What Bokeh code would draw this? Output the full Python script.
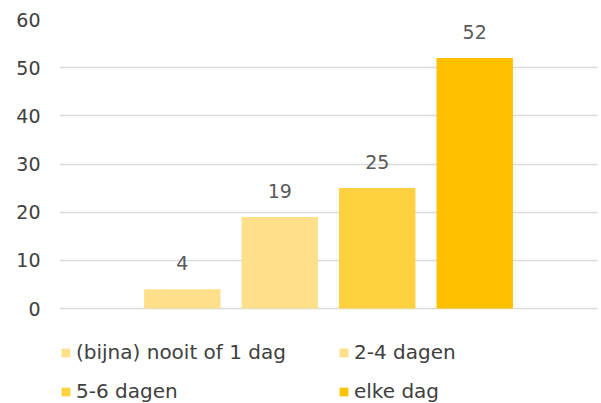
from bokeh.plotting import figure
from bokeh.models import ColumnDataSource, FactorRange, Range1d, FixedTicker, LabelSet, Legend, LegendItem
from bokeh.core.properties import value
from bokeh.embed import file_html
from bokeh.resources import INLINE

labels = ["(bijna) nooit of 1 dag", "2-4 dagen", "5-6 dagen", "elke dag"]
values = [4, 19, 25, 52]
colors = ["#FFE08A", "#FFE08A", "#FFD13F", "#FFC000"]
y_ticks = [0, 10, 20, 30, 40, 50, 60]

FONT = "DejaVu Sans"

source = ColumnDataSource(dict(
    x=labels, top=values, color=colors, txt=[str(v) for v in values]
))

# the frame reaches the bottom of the page so that the legend below the bars is not clipped
p = figure(
    width=601, height=403,
    x_range=FactorRange(factors=labels, range_padding=0.38, range_padding_units="percent"),
    y_range=Range1d(-19.72, 60),
    output_backend="svg", toolbar_location=None,
    min_border_left=59, min_border_right=4, min_border_top=19, min_border_bottom=0,
)

r = p.vbar(x="x", bottom=0, top="top", width=0.784, color="color", line_color=None, source=source)

labs = LabelSet(x="x", y="top", text="txt", source=source, y_offset=26,
                text_align="center", text_baseline="middle",
                text_font=value(FONT), text_font_size="19px", text_color="#595959")
p.add_layout(labs)

p.xaxis.visible = False
p.xgrid.grid_line_color = None
p.ygrid.grid_line_color = "#D9D9D9"
p.ygrid.grid_line_width = 1.3
p.yaxis.ticker = FixedTicker(ticks=y_ticks)
p.yaxis.axis_line_color = None
p.yaxis.major_tick_line_color = None
p.yaxis.minor_tick_line_color = None
p.yaxis.major_tick_out = 0
p.yaxis.major_tick_in = 0
p.yaxis.major_label_standoff = 19
p.yaxis.major_label_text_font = FONT
p.yaxis.major_label_text_font_size = "19px"
p.yaxis.major_label_text_color = "#404040"
p.outline_line_color = None


def make_legend(idx, loc):
    items = [LegendItem(label=labels[i], renderers=[r], index=i) for i in idx]
    return Legend(items=items, orientation="horizontal",
                  glyph_width=11, glyph_height=11, label_standoff=5,
                  label_width=222, label_height=22, spacing=40,
                  padding=0, margin=0, border_line_color=None,
                  background_fill_alpha=0,
                  label_text_font=FONT, label_text_font_size="20px",
                  label_text_color="#404040",
                  location=loc)


p.add_layout(make_legend([0, 1], (1, 39)))
p.add_layout(make_legend([2, 3], (1, 0)))

open("out.html", "w").write(file_html(p, INLINE))
